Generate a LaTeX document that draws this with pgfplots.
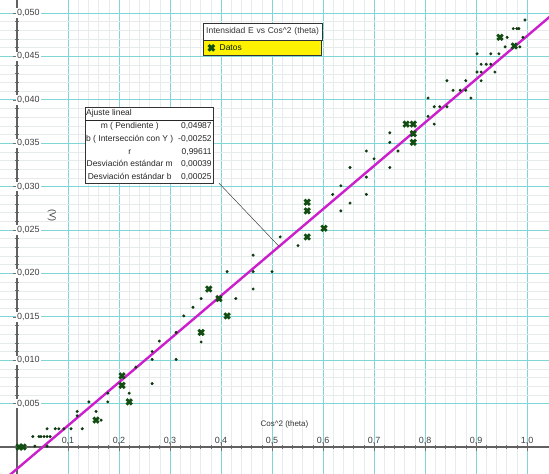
\documentclass[border=0pt]{standalone}
\usepackage{pgfplots}
\pgfplotsset{compat=1.18}
\usepackage{fontspec}
\setmainfont{Liberation Sans}
\definecolor{gridmaj}{RGB}{128,214,214}
\definecolor{gridmin}{RGB}{230,236,236}
\definecolor{datgreen}{RGB}{18,78,18}
\definecolor{fitmag}{RGB}{204,30,204}
\pgfplotstableread{
x y
0.004 0.0000
0.012 0.0000
0.155 0.0031
0.206 0.0082
0.206 0.0071
0.220 0.0052
0.361 0.0132
0.376 0.0182
0.396 0.0171
0.412 0.0151
0.569 0.0282
0.569 0.0272
0.569 0.0242
0.602 0.0252
0.763 0.0372
0.777 0.0372
0.777 0.0361
0.777 0.0351
0.947 0.0472
0.975 0.0462
}\datos
\pgfplotstableread{
x y
0.031 0.0012
0.043 0.0012
0.047 0.0012
0.053 0.0012
0.059 0.0012
0.065 0.0012
0.059 0.0021
0.075 0.0021
0.082 0.0021
0.092 0.0021
0.106 0.0021
0.128 0.0021
0.035 0.0001
0.059 0.0001
0.118 0.0041
0.118 0.0036
0.141 0.0052
0.155 0.0041
0.165 0.0031
0.178 0.0062
0.178 0.0052
0.220 0.0062
0.233 0.0092
0.265 0.0101
0.265 0.0073
0.265 0.0110
0.279 0.0122
0.312 0.0101
0.312 0.0132
0.327 0.0151
0.345 0.0161
0.361 0.0171
0.361 0.0121
0.429 0.0171
0.412 0.0202
0.463 0.0202
0.463 0.0182
0.463 0.0221
0.500 0.0202
0.516 0.0242
0.551 0.0232
0.619 0.0291
0.635 0.0272
0.635 0.0301
0.653 0.0281
0.653 0.0322
0.685 0.0291
0.685 0.0311
0.685 0.0341
0.700 0.0332
0.731 0.0322
0.731 0.0351
0.731 0.0362
0.747 0.0341
0.806 0.0381
0.806 0.0402
0.818 0.0372
0.818 0.0392
0.829 0.0392
0.843 0.0392
0.843 0.0422
0.855 0.0411
0.869 0.0411
0.880 0.0411
0.880 0.0422
0.890 0.0402
0.902 0.0432
0.902 0.0453
0.910 0.0432
0.910 0.0441
0.910 0.0422
0.920 0.0441
0.929 0.0441
0.929 0.0453
0.937 0.0432
0.945 0.0453
0.957 0.0461
0.961 0.0472
0.973 0.0482
0.980 0.0482
0.984 0.0482
0.986 0.0461
0.992 0.0472
0.996 0.0492
}\puntos
\begin{document}
\begin{tikzpicture}
\begin{axis}[
  scale only axis, width=549bp, height=474bp,
  xmin=-0.0333, xmax=1.0431, ymin=-0.00311, ymax=0.0515,
  axis lines=middle,
  axis line style={draw=black!62, line width=1.2pt, -},
  xtick={0.1,0.2,0.3,0.4,0.5,0.6,0.7,0.8,0.9,1.0},
  ytick={0.005,0.010,0.015,0.020,0.025,0.030,0.035,0.040,0.045,0.050},
  minor tick num=4,
  grid=both,
  major grid style={draw=gridmaj, line width=0.9pt},
  minor grid style={draw=gridmin, line width=0.5pt},
  tick style={draw=black!55, line width=0.6pt},
  major tick length=8bp, minor tick length=4bp, tick align=center,
  scaled x ticks=false, scaled y ticks=false,
  /pgf/number format/assume math mode=true,
  /pgf/number format/use comma,
  /pgf/number format/fixed,
  /pgf/number format/fixed zerofill,
  ticklabel style={font=\fontsize{9}{10}\selectfont, text=black!75},
  xticklabel style={anchor=south, yshift=3bp, /pgf/number format/precision=1},
  yticklabel style={anchor=west, xshift=3bp, fill=white, inner sep=1pt, /pgf/number format/precision=3},
  xlabel={Cos\textasciicircum 2 (theta)},
  x label style={at={(rel axis cs:0.568,0.1055)}, anchor=east, font=\fontsize{8}{9}\selectfont, text=black!80},
  ylabel={(V)},
  y label style={at={(rel axis cs:0.0947,0.546)}, anchor=center, rotate=-90, font=\fontsize{9}{10}\selectfont, text=black!80},
  legend style={at={(rel axis cs:0.3698,0.9156)}, anchor=north west, fill=yellow, draw=black!80,
     inner xsep=2bp, inner ysep=2bp, font=\fontsize{8.5}{10}\selectfont, text=black!70!green!40!black},
  legend image code/.code={\draw[datgreen, line width=3pt, mark=x, mark size=4pt, only marks] plot coordinates {(0.17cm,0cm)};
     \path (0cm,0cm) (0.34cm,0cm);},
  clip=true,
]
\addplot[forget plot, only marks, mark=*, mark size=1.3pt, draw=datgreen!70!black, fill=datgreen!70!black] table[x=x,y=y] {\puntos};
\addplot[forget plot, fitmag, line width=2.4pt] coordinates {(-0.04,-0.0045148) (1.05,0.0498435)};
\addplot[only marks, mark=x, mark size=3.8pt, line width=2.8pt, datgreen] table[x=x,y=y] {\datos};
\addlegendentry{\makebox[98bp][l]{Datos}}
\draw[black!75, line width=0.5pt] (axis cs:0.396,0.0304) -- (axis cs:0.514,0.0231);
\node[draw=black!80, fill=white, anchor=north west, inner sep=0pt, minimum width=119bp, minimum height=17bp,
  font=\fontsize{8.5}{10}\selectfont, text=black!80, align=left, text width=115bp] at (rel axis cs:0.3698,0.9515)
  {\hspace*{1bp}Intensidad E vs Cos\textasciicircum 2 (theta)};
\node[draw=black!80, fill=white, anchor=north west, inner sep=0pt, font=\fontsize{8.5}{12}\selectfont, text=black!85]
  at (rel axis cs:0.1548,0.7743) {%
  \renewcommand\arraystretch{1.05}%
  \begin{tabular}{@{\hspace{1bp}}c@{\hspace{5bp}}r@{\hspace{2bp}}}
  \multicolumn{2}{@{\hspace{1bp}}l}{Ajuste lineal}\\\hline
  m ( Pendiente ) & 0,04987\\
  b ( Intersección con Y ) & -0,00252\\
  r & 0,99611\\
  Desviación estándar m & 0,00039\\
  Desviación estándar b & 0,00025
  \end{tabular}};
\end{axis}
\pgfresetboundingbox
\useasboundingbox (current axis.south west) rectangle (current axis.north east);
\end{tikzpicture}
\end{document}
